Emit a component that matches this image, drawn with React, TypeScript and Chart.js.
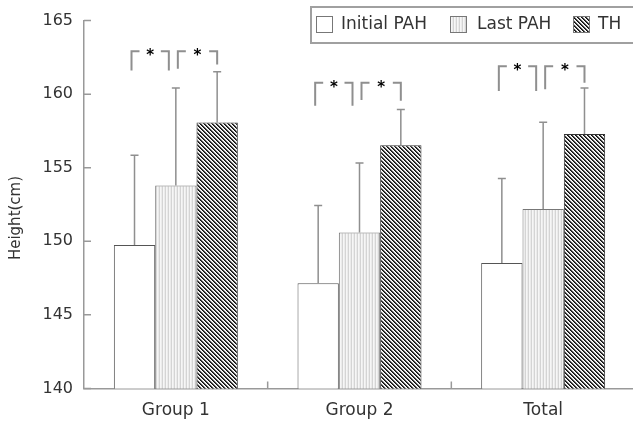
import { useEffect, useRef } from 'react';
import { Chart, registerables } from 'chart.js';

Chart.register(...registerables);

const categories = ['Group 1', 'Group 2', 'Total'];
const seriesNames = ['Initial PAH', 'Last PAH', 'TH'];
const initialPAH = [149.75, 147.15, 148.52];
const initialErr = [6.09, 5.28, 5.75];
const lastPAH = [153.79, 150.59, 152.2];
const lastErr = [6.63, 4.73, 5.89];
const thValues = [158.07, 156.52, 157.3];
const thErr = [3.45, 2.44, 3.12];
const yMin = 140;
const yMax = 165;
const yStep = 5;
const yTitle = 'Height(cm)';
// significance brackets: [initial vs last, last vs TH]
const bracketTop = [162.92, 160.78, 161.89];
const bracket1Legs = [[161.61, 161.61], [159.21, 159.21], [160.22, 160.22]];
const bracket2Legs = [[161.73, 162.02], [159.61, 159.56], [160.33, 160.78]];
const sigMark = '*';

const FONT = 'DejaVu Sans';
const TEXT = '#333';
const AXIS = '#999';

function makeStripe(): CanvasPattern {
  const c = document.createElement('canvas');
  c.width = 3; c.height = 1;
  const g = c.getContext('2d')!;
  g.fillStyle = '#f6f6f6'; g.fillRect(0, 0, 3, 1);
  g.fillStyle = '#d4d4d4'; g.fillRect(0, 0, 1, 1);
  g.fillStyle = '#ebebeb'; g.fillRect(2, 0, 1, 1);
  return g.createPattern(c, 'repeat')!;
}

function makeHatch(): CanvasPattern {
  const c = document.createElement('canvas');
  c.width = 4; c.height = 4;
  const g = c.getContext('2d')!;
  for (let y = 0; y < 4; y++) {
    for (let x = 0; x < 4; x++) {
      const d = (((x - y) % 4) + 4) % 4;
      g.fillStyle = d === 0 ? '#111' : d === 1 ? '#444' : d === 2 ? '#ddd' : '#fff';
      g.fillRect(x, y, 1, 1);
    }
  }
  return g.createPattern(c, 'repeat')!;
}

export default function App() {
  const ref = useRef<HTMLCanvasElement>(null);
  useEffect(() => {
    const canvas = ref.current!;
    const ctx = canvas.getContext('2d')!;
    const stripe = makeStripe();
    const hatch = makeHatch();
    const errs = [initialErr, lastErr, thErr];
    const fills: (string | CanvasPattern)[] = ['#fff', stripe, hatch];

    const overlay = {
      id: 'overlay',
      afterDatasetsDraw(chart: any) {
        const c = chart.ctx as CanvasRenderingContext2D;
        const ys = chart.scales.y;
        const xs = chart.scales.x;
        const area = chart.chartArea;
        c.save();
        // error bars
        c.strokeStyle = '#8f8f8f';
        c.lineWidth = 1.5;
        chart.data.datasets.forEach((ds: any, di: number) => {
          const meta = chart.getDatasetMeta(di);
          meta.data.forEach((el: any, i: number) => {
            const top = ys.getPixelForValue(ds.data[i] + errs[di][i]);
            c.beginPath();
            c.moveTo(el.x, el.y);
            c.lineTo(el.x, top);
            c.moveTo(el.x - 4, top);
            c.lineTo(el.x + 4, top);
            c.stroke();
          });
        });
        // brackets
        const m0 = chart.getDatasetMeta(0).data;
        const m1 = chart.getDatasetMeta(1).data;
        const m2 = chart.getDatasetMeta(2).data;
        c.lineWidth = 2;
        const drawBracket = (xl: number, xr: number, topV: number, legs: number[]) => {
          const yt = ys.getPixelForValue(topV);
          const yl = ys.getPixelForValue(legs[0]);
          const yr = ys.getPixelForValue(legs[1]);
          const arm = 8;
          c.strokeStyle = '#8f8f8f';
          c.beginPath();
          c.moveTo(xl, yl); c.lineTo(xl, yt); c.lineTo(xl + arm, yt);
          c.moveTo(xr - arm, yt); c.lineTo(xr, yt); c.lineTo(xr, yr);
          c.stroke();
          c.fillStyle = '#000';
          c.font = `bold 15px ${FONT}`;
          c.textAlign = 'center';
          c.textBaseline = 'alphabetic';
          c.fillText(sigMark, (xl + xr) / 2, yt + 9);
        };
        categories.forEach((_, i) => {
          drawBracket(m0[i].x - 3, m1[i].x - 7, bracketTop[i], bracket1Legs[i]);
          drawBracket(m1[i].x + 2, m2[i].x, bracketTop[i], bracket2Legs[i]);
        });
        // inward ticks
        c.strokeStyle = AXIS;
        c.lineWidth = 1.5;
        c.beginPath();
        for (let v = yMin; v <= yMax; v += yStep) {
          const y = ys.getPixelForValue(v);
          c.moveTo(area.left, y); c.lineTo(area.left + 7, y);
        }
        for (let i = 1; i < categories.length; i++) {
          const x = (xs.getPixelForValue(i - 1) + xs.getPixelForValue(i)) / 2;
          c.moveTo(x, area.bottom); c.lineTo(x, area.bottom - 7);
        }
        c.stroke();
        // y title
        c.save();
        c.translate(16, 218);
        c.rotate(-Math.PI / 2);
        c.fillStyle = TEXT;
        c.font = `15px ${FONT}`;
        c.textAlign = 'center';
        c.textBaseline = 'middle';
        c.fillText(yTitle, 0, 0);
        c.restore();
        // legend
        c.fillStyle = '#fff';
        c.fillRect(311, 7, 340, 36);
        c.strokeStyle = '#a0a0a0';
        c.lineWidth = 2;
        c.strokeRect(311, 7, 340, 36);
        const boxX = [316, 450, 573];
        const textX = [341, 477, 598];
        seriesNames.forEach((name, i) => {
          c.fillStyle = fills[i] as any;
          c.fillRect(boxX[i], 16, 17, 17);
          c.strokeStyle = '#777';
          c.lineWidth = 1;
          c.strokeRect(boxX[i] + 0.5, 16.5, 16, 16);
          c.fillStyle = TEXT;
          c.font = `17px ${FONT}`;
          c.textAlign = 'left';
          c.textBaseline = 'middle';
          c.fillText(name, textX[i], 25);
        });
        c.restore();
      },
    };

    const chart = new Chart(ctx, {
      type: 'bar',
      data: {
        labels: categories,
        datasets: [
          { label: seriesNames[0], data: initialPAH, backgroundColor: '#fff', borderColor: '#555', borderWidth: 1 },
          { label: seriesNames[1], data: lastPAH, backgroundColor: stripe as any, borderColor: '#777', borderWidth: 1 },
          { label: seriesNames[2], data: thValues, backgroundColor: hatch as any, borderColor: '#333', borderWidth: 1 },
        ].map((d) => ({ ...d, categoryPercentage: 0.675, barPercentage: 1 })),
      },
      options: {
        responsive: true,
        maintainAspectRatio: false,
        animation: false,
        layout: { padding: { top: 17, right: 1, bottom: 0, left: 0 } },
        plugins: { legend: { display: false }, tooltip: { enabled: false } },
        scales: {
          x: {
            grid: { display: true, drawOnChartArea: false, drawTicks: false },
            border: { display: true, color: AXIS, width: 1.5 },
            ticks: { padding: 12, color: TEXT, font: { family: FONT, size: 17 } },
            afterFit: (s: any) => { s.height = 36.6; },
          },
          y: {
            min: yMin,
            max: yMax,
            grid: { display: true, drawOnChartArea: false, drawTicks: false },
            border: { display: true, color: AXIS, width: 1.5 },
            ticks: { stepSize: yStep, padding: 11, color: TEXT, font: { family: FONT, size: 16 } },
            afterFit: (s: any) => { s.width = 84; },
          },
        },
      },
      plugins: [overlay],
    });
    return () => chart.destroy();
  }, []);

  return (
    <div style={{ position: 'fixed', left: 0, top: 0, width: 633, height: 425, overflow: 'hidden', background: '#fff' }}>
      <div style={{ position: 'relative', width: 636, height: 425 }}>
        <canvas ref={ref} />
      </div>
    </div>
  );
}
